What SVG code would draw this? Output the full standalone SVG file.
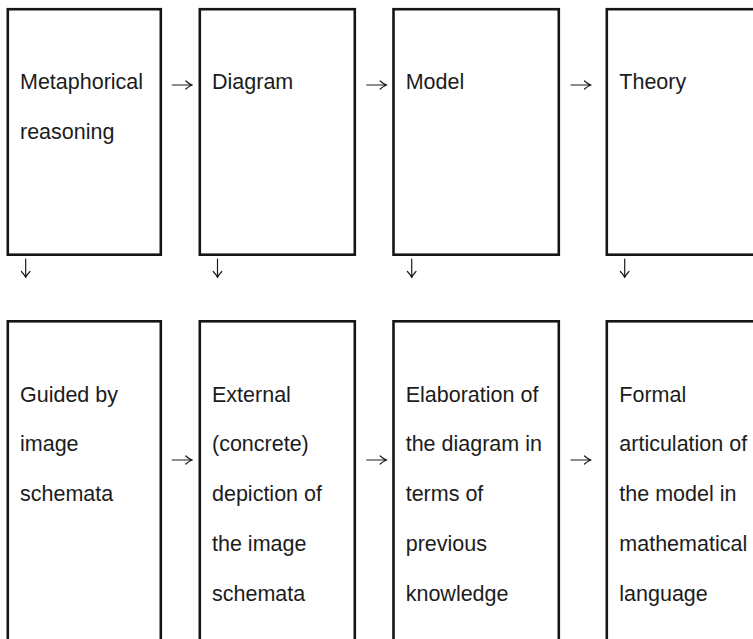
<svg xmlns="http://www.w3.org/2000/svg" width="753" height="639" viewBox="0 0 753 639">
<style>
.box{fill:#fff;stroke:#151515;stroke-width:2.6}
.t{font-family:"Liberation Sans",Arial,Helvetica,sans-serif;font-size:21.5px;fill:#1c1c1c}
.arr{fill:none;stroke:#1c1c1c;stroke-width:1.2;stroke-linecap:round;stroke-linejoin:round}
</style>
<defs>
<path id="ra" d="M0,0 H20 M13.5,-4 Q16.5,-1.2 20,0 Q16.5,1.2 13.5,4"/>
<path id="da" d="M0,0 V18.5 M-4.3,12.5 Q-1.3,15.5 0,18.5 Q1.3,15.5 4.3,12.5"/>
</defs>
<rect width="753" height="639" fill="#fff"/>
<g id="n1"><rect class="box" x="7.8" y="9.2" width="153" height="245.5"/>
<text class="t" x="20" y="89">Metaphorical</text><text class="t" x="20" y="138.8">reasoning</text></g>
<g id="n2"><rect class="box" x="199.8" y="9.2" width="155" height="245.5"/>
<text class="t" x="212" y="89">Diagram</text></g>
<g id="n3"><rect class="box" x="393.5" y="9.2" width="165.3" height="245.5"/>
<text class="t" x="405.7" y="89">Model</text></g>
<g id="n4"><rect class="box" x="606.8" y="9.2" width="160" height="245.5"/>
<text class="t" x="619.3" y="89">Theory</text></g>
<g id="n5"><rect class="box" x="7.8" y="321.3" width="153" height="330"/>
<text class="t" x="20" y="401.7">Guided by</text><text class="t" x="20" y="451.4">image</text><text class="t" x="20" y="501.1">schemata</text></g>
<g id="n6"><rect class="box" x="199.8" y="321.3" width="155" height="330"/>
<text class="t" x="212" y="401.7">External</text><text class="t" x="212" y="451.4">(concrete)</text><text class="t" x="212" y="501.1">depiction of</text><text class="t" x="212" y="550.8">the image</text><text class="t" x="212" y="600.5">schemata</text></g>
<g id="n7"><rect class="box" x="393.5" y="321.3" width="165.3" height="330"/>
<text class="t" x="405.7" y="401.7">Elaboration of</text><text class="t" x="405.7" y="451.4">the diagram in</text><text class="t" x="405.7" y="501.1">terms of</text><text class="t" x="405.7" y="550.8">previous</text><text class="t" x="405.7" y="600.5">knowledge</text></g>
<g id="n8"><rect class="box" x="606.8" y="321.3" width="160" height="330"/>
<text class="t" x="619.3" y="401.7">Formal</text><text class="t" x="619.3" y="451.4">articulation of</text><text class="t" x="619.3" y="501.1">the model in</text><text class="t" x="619.3" y="550.8">mathematical</text><text class="t" x="619.3" y="600.5">language</text></g>
<g id="connectors" class="arr">
<use href="#ra" x="172.3" y="85"/>
<use href="#ra" x="366.7" y="85"/>
<use href="#ra" x="571" y="85"/>
<use href="#ra" x="172.3" y="460"/>
<use href="#ra" x="366.7" y="460"/>
<use href="#ra" x="571" y="460"/>
<use href="#da" x="25.7" y="259"/>
<use href="#da" x="217.5" y="259"/>
<use href="#da" x="411.7" y="259"/>
<use href="#da" x="624.7" y="259"/>
</g>
</svg>
